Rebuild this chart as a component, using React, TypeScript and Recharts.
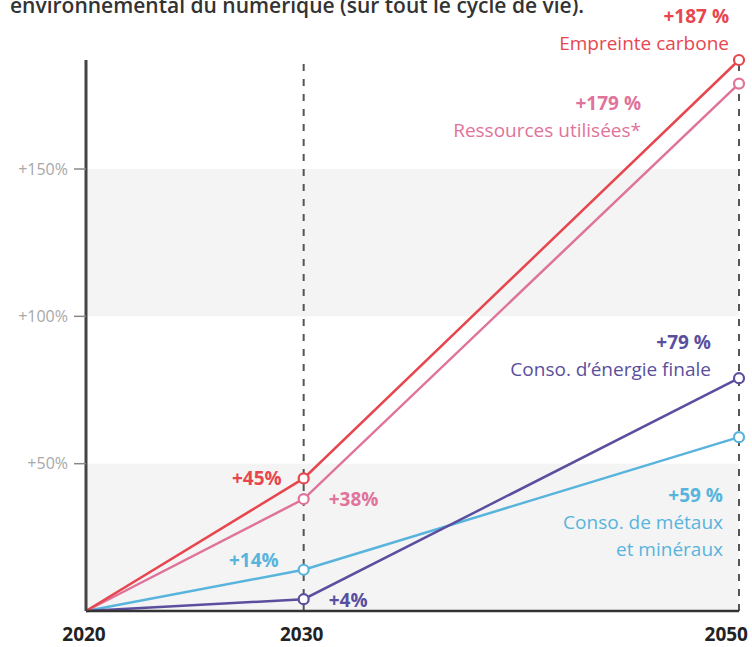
import React from "react";
import {
  LineChart,
  Line,
  XAxis,
  YAxis,
  ReferenceLine,
  ReferenceArea,
  LabelList,
} from "recharts";

const years = [2020, 2030, 2050];
const carbone = [0, 45, 187];
const ressources = [0, 38, 179];
const energie = [0, 4, 79];
const metaux = [0, 14, 59];
const yTicks = [50, 100, 150];
const xTicks = [2020, 2030, 2050];
const bands = [
  [0, 50],
  [100, 150],
];
const titleText = "environnemental du numérique (sur tout le cycle de vie).";

const nameCarbone = ["Empreinte carbone"];
const nameRessources = ["Ressources utilisées*"];
const nameEnergie = ["Conso. d’énergie finale"];
const nameMetaux = ["Conso. de métaux", "et minéraux"];

const data = years.map((year, i) => ({
  year,
  carbone: carbone[i],
  ressources: ressources[i],
  energie: energie[i],
  metaux: metaux[i],
}));

const FONT = "'Open Sans', 'Noto Sans', sans-serif";

const C_RED = "#e8464f";
const C_PINK = "#e0739a";
const C_PURPLE = "#5a4f9e";
const C_BLUE = "#58b4dd";

const LABEL_SIZE = 19;

type LabelCfg = {
  mid: { dx: number; dy: number; anchor: "start" | "end" };
  end: { dx: number; dy: number };
};

const makeDot = (color: string) => (props: any) => {
  const { cx, cy, index } = props;
  if (index === 0 || cx == null || cy == null) return <g key={`d${index}`} />;
  return (
    <circle
      key={`d${index}`}
      cx={cx}
      cy={cy}
      r={5}
      fill="#fff"
      stroke={color}
      strokeWidth={2.2}
    />
  );
};

const makeLabel =
  (color: string, names: string[], cfg: LabelCfg) => (props: any) => {
    const { x, y, index, value } = props;
    if (x == null || y == null) return null;
    if (index === 1) {
      return (
        <text
          x={x + cfg.mid.dx}
          y={y + cfg.mid.dy}
          textAnchor={cfg.mid.anchor}
          dominantBaseline="central"
          fill={color}
          fontFamily={FONT}
          fontSize={LABEL_SIZE}
          fontWeight={700}
        >
          {`+${value}%`}
        </text>
      );
    }
    if (index === 2) {
      return (
        <text
          x={x + cfg.end.dx}
          y={y + cfg.end.dy}
          textAnchor="end"
          fill={color}
          fontFamily={FONT}
          fontSize={LABEL_SIZE}
        >
          <tspan x={x + cfg.end.dx} fontWeight={700}>{`+${value} %`}</tspan>
          {names.map((n, i) => (
            <tspan key={i} x={x + cfg.end.dx} dy={27} fontWeight={400}>
              {n}
            </tspan>
          ))}
        </text>
      );
    }
    return null;
  };

const XTick = (props: any) => {
  const { x, y, payload, index } = props;
  const last = index === xTicks.length - 1;
  return (
    <text
      x={last ? x + 12 : x - 2}
      y={y}
      dy="0.71em"
      textAnchor={last ? "end" : "middle"}
      fill="#222"
      fontFamily={FONT}
      fontSize={19}
      fontWeight={700}
    >
      {payload.value}
    </text>
  );
};

export default function App() {
  return (
    <div style={{ position: "absolute", left: 0, top: 0, width: 752, height: 647, overflow: "hidden", background: "#fff" }}>
      <div
        style={{
          position: "absolute",
          left: 10,
          top: -5,
          fontFamily: FONT,
          fontSize: 21,
          lineHeight: "21px",
          fontWeight: 600,
          color: "#333",
          whiteSpace: "nowrap",
        }}
      >
        {titleText}
      </div>
      <div style={{ position: "absolute", left: 0, top: 0 }}>
        <LineChart
          width={752}
          height={647}
          data={data}
          margin={{ top: 60, right: 13, left: 26, bottom: 6 }}
        >
          {bands.map(([a, b], i) => (
            <ReferenceArea
              key={i}
              x1={2020}
              x2={2050}
              y1={a}
              y2={b}
              fill="#f4f4f4"
              fillOpacity={1}
              stroke="none"
            />
          ))}
          <XAxis
            type="number"
            dataKey="year"
            domain={[2020, 2050]}
            ticks={xTicks}
            axisLine={{ stroke: "#333", strokeWidth: 2.5 }}
            tickLine={false}
            tickSize={6}
            tickMargin={11}
            height={30}
            tick={XTick}
          />
          <YAxis
            type="number"
            domain={[0, 187]}
            ticks={yTicks}
            width={60}
            tickFormatter={(v: number) => `+${v}%`}
            axisLine={{ stroke: "#444", strokeWidth: 3 }}
            tickLine={{ stroke: "#888", strokeWidth: 1.5 }}
            tickSize={12}
            tickMargin={6}
            tick={{ fill: "#a8a8a8", fontFamily: FONT, fontSize: 16 }}
          />
          <ReferenceLine x={2030} stroke="#555" strokeWidth={2} strokeDasharray="7 8" />
          <ReferenceLine x={2050} stroke="#555" strokeWidth={2} strokeDasharray="7 8" />
          <Line
            dataKey="metaux"
            stroke={C_BLUE}
            strokeWidth={2.5}
            dot={makeDot(C_BLUE)}
            activeDot={false}
            isAnimationActive={false}
          >
            <LabelList
              dataKey="metaux"
              content={makeLabel(C_BLUE, nameMetaux, {
                mid: { dx: -25, dy: -10, anchor: "end" },
                end: { dx: -16, dy: 65 },
              })}
            />
          </Line>
          <Line
            dataKey="energie"
            stroke={C_PURPLE}
            strokeWidth={2.5}
            dot={makeDot(C_PURPLE)}
            activeDot={false}
            isAnimationActive={false}
          >
            <LabelList
              dataKey="energie"
              content={makeLabel(C_PURPLE, nameEnergie, {
                mid: { dx: 25, dy: 1, anchor: "start" },
                end: { dx: -28, dy: -29 },
              })}
            />
          </Line>
          <Line
            dataKey="ressources"
            stroke={C_PINK}
            strokeWidth={2.5}
            dot={makeDot(C_PINK)}
            activeDot={false}
            isAnimationActive={false}
          >
            <LabelList
              dataKey="ressources"
              content={makeLabel(C_PINK, nameRessources, {
                mid: { dx: 25, dy: 0, anchor: "start" },
                end: { dx: -98, dy: 26 },
              })}
            />
          </Line>
          <Line
            dataKey="carbone"
            stroke={C_RED}
            strokeWidth={2.5}
            dot={makeDot(C_RED)}
            activeDot={false}
            isAnimationActive={false}
          >
            <LabelList
              dataKey="carbone"
              content={makeLabel(C_RED, nameCarbone, {
                mid: { dx: -22, dy: 0, anchor: "end" },
                end: { dx: -10, dy: -37 },
              })}
            />
          </Line>
        </LineChart>
      </div>
    </div>
  );
}
